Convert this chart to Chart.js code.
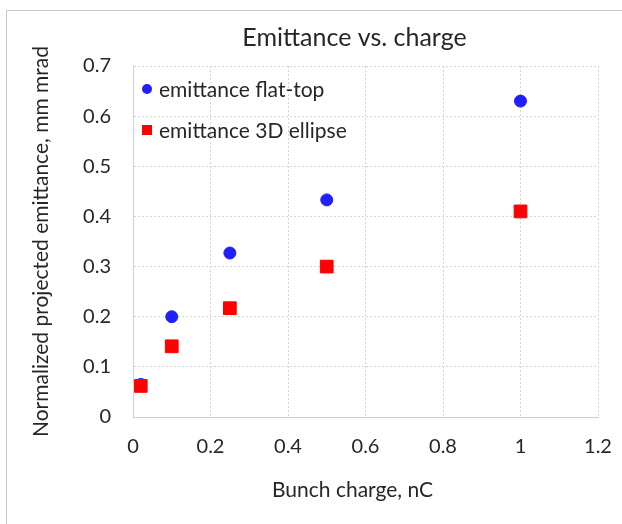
<!DOCTYPE html>
<html>
<head>
<meta charset="utf-8">
<script src="https://cdn.jsdelivr.net/npm/chart.js@4"></script>
<style>
    body { margin: 0; background: #fff; }
    #wrap { position: relative; width: 622px; height: 524px; }
    #frame {
        position: absolute; left: 6px; top: 10px; right: 0; bottom: 0;
        border-top: 1px solid #c8c8c8; border-left: 1px solid #c8c8c8;
        pointer-events: none;
    }
</style>
</head>
<body>
<div id="wrap">
    <canvas id="myChart" width="622" height="524"></canvas>
    <div id="frame"></div>
</div>
<script>
// Data
const charge = [0.02, 0.1, 0.25, 0.5, 1.0];
const flatTop = [0.065, 0.2, 0.327, 0.433, 0.63];
const ellipse3D = [0.062, 0.141, 0.217, 0.3, 0.41];
const xTicks = [0, 0.2, 0.4, 0.6, 0.8, 1, 1.2];
const yTicks = [0, 0.1, 0.2, 0.3, 0.4, 0.5, 0.6, 0.7];

const FONT = 'Lato, "Open Sans", sans-serif';
const TEXT = '#262626';

function toPoints(xs, ys) {
    return xs.map((x, i) => ({ x: x, y: ys[i] }));
}

// Title, x axis title and in-plot legend drawn by hand (Excel style)
const decorPlugin = {
    id: 'decor',
    afterDraw(chart) {
        const ctx = chart.ctx;
        const area = chart.chartArea;
        const mid = (area.left + area.right) / 2;
        ctx.save();

        // solid axis lines
        ctx.strokeStyle = '#d0d0d0';
        ctx.lineWidth = 1;
        ctx.beginPath();
        ctx.moveTo(area.left + 0.5, area.top);
        ctx.lineTo(area.left + 0.5, area.bottom + 0.5);
        ctx.lineTo(area.right, area.bottom + 0.5);
        ctx.stroke();

        ctx.fillStyle = TEXT;
        ctx.textAlign = 'center';
        ctx.textBaseline = 'middle';
        ctx.font = '25px ' + FONT;
        ctx.fillText('Emittance vs. charge', mid - 11, 38);
        ctx.font = '21px ' + FONT;
        ctx.fillText('Bunch charge, nC', mid - 13, 490);

        // legend
        ctx.font = '21px ' + FONT;
        ctx.textAlign = 'left';
        chart.data.datasets.forEach((ds, i) => {
            const y = area.top + 23 + i * 41;
            const x = area.left + 14;
            ctx.fillStyle = ds.backgroundColor;
            if (ds.pointStyle === 'rect') {
                ctx.fillRect(x - 5, y - 5, 10, 10);
            } else {
                ctx.beginPath();
                ctx.arc(x, y, 5, 0, Math.PI * 2);
                ctx.fill();
            }
            ctx.fillStyle = TEXT;
            ctx.fillText(ds.label, x + 12, y + 1);
        });
        ctx.restore();
    }
};

const ctx = document.getElementById('myChart').getContext('2d');
const myChart = new Chart(ctx, {
    type: 'scatter',
    data: {
        datasets: [
            {
                label: 'emittance flat-top',
                data: toPoints(charge, flatTop),
                backgroundColor: '#1f1fff',
                borderColor: '#1f1fff',
                pointStyle: 'circle',
                pointRadius: 6,
                pointHoverRadius: 6,
                order: 1
            },
            {
                label: 'emittance 3D ellipse',
                data: toPoints(charge, ellipse3D),
                backgroundColor: '#ff0000',
                borderColor: '#ff0000',
                pointStyle: 'rect',
                pointRadius: 9,
                pointHoverRadius: 9,
                order: 0
            }
        ]
    },
    options: {
        responsive: false,
        animation: false,
        layout: { padding: { top: 66, right: 24, left: 0, bottom: 0 } },
        plugins: {
            legend: { display: false },
            title: { display: false },
            tooltip: { enabled: false }
        },
        scales: {
            x: {
                type: 'linear',
                min: 0,
                max: 1.2,
                afterBuildTicks: s => { s.ticks = xTicks.map(v => ({ value: v })); },
                afterFit: s => { s.height = 107; s.paddingRight = 0; s.paddingLeft = 0; },
                grid: { color: '#d4d4d4', drawTicks: false },
                border: { color: '#d0d0d0', dash: [2, 2] },
                ticks: {
                    padding: 18,
                    color: TEXT,
                    font: { family: FONT, size: 20 },
                    callback: v => String(v)
                }
            },
            y: {
                type: 'linear',
                min: 0,
                max: 0.7,
                afterBuildTicks: s => { s.ticks = yTicks.map(v => ({ value: v })); },
                afterFit: s => { s.width = 133; },
                grid: { color: '#d4d4d4', drawTicks: false },
                border: { color: '#d0d0d0', dash: [2, 2] },
                ticks: {
                    padding: 22,
                    color: TEXT,
                    font: { family: FONT, size: 20 },
                    callback: v => String(v)
                },
                title: {
                    display: true,
                    text: 'Normalized projected emittance, mm mrad',
                    color: TEXT,
                    padding: 29,
                    font: { family: FONT, size: 21 }
                }
            }
        }
    },
    plugins: [decorPlugin]
});
</script>
</body>
</html>
